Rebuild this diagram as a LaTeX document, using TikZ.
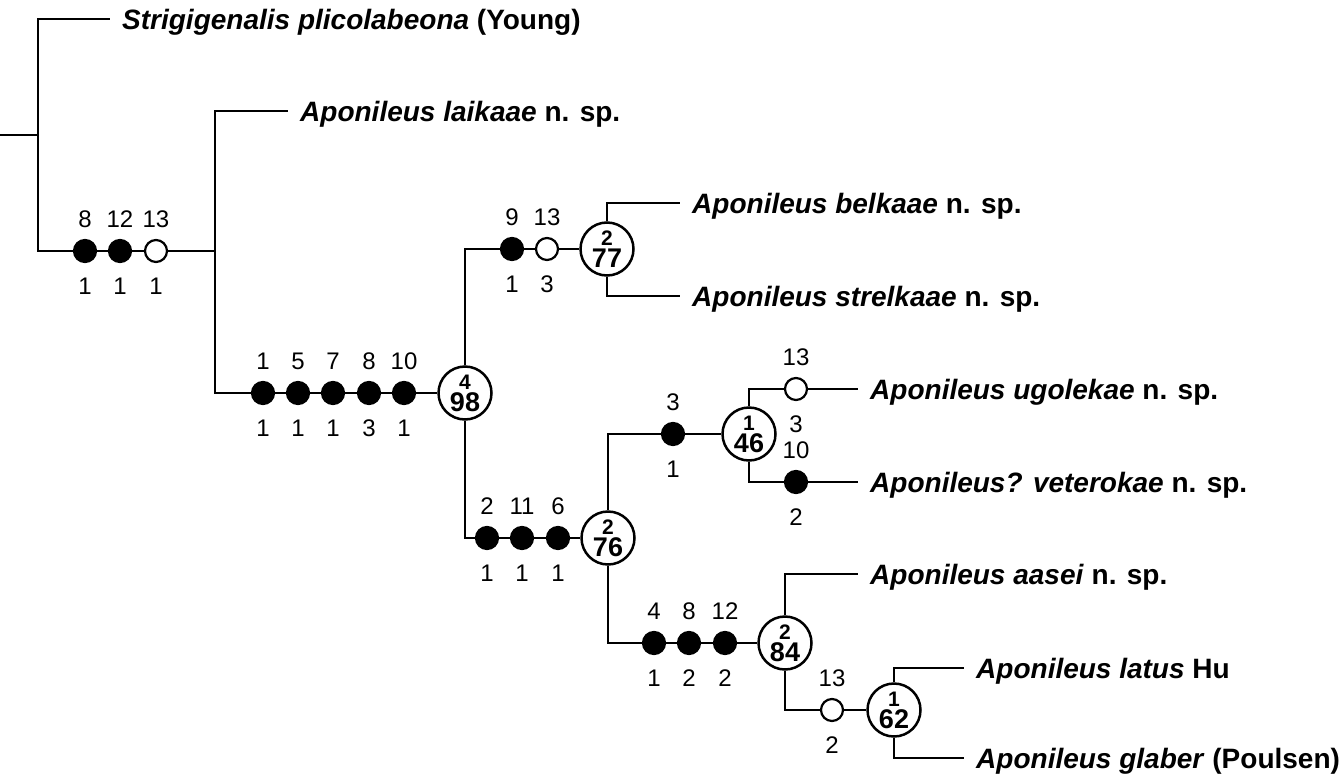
\documentclass[tikz,border=0pt]{standalone}
\usepackage{fontspec}
\setmainfont{Liberation Sans}
\tikzset{
  br/.style={line width=2.4pt, line join=miter},
  dotf/.style={circle, draw, fill=black, line width=2.2pt, minimum size=22pt, inner sep=0pt},
  doto/.style={circle, draw, fill=white, line width=2.2pt, minimum size=22pt, inner sep=0pt},
  cnode/.style={circle, draw, fill=white, line width=2.5pt, minimum size=53pt, inner sep=0pt, font=\bfseries},
  lbl/.style={inner sep=0pt, font=\fontsize{24}{24}\selectfont, text height=17pt, text depth=0pt},
  taxon/.style={anchor=west, inner xsep=12pt, inner ysep=0pt, font=\fontsize{28}{30}\selectfont\bfseries, text height=20pt, text depth=0pt}
}
\newcommand\chr[6]{%
  \node[#4] (#1) at (#2,#3) {};
  \node[lbl] (#1t) at (#2,#3-32) {#5};
  \node[lbl] (#1b) at (#2,#3+35) {#6};
}
\newcommand\clade[5]{%
  \node[cnode] (#1) at (#2,#3) {\shortstack{{\fontsize{21}{21}\selectfont #4}\\{\fontsize{27}{27}\selectfont #5}}};
}
\begin{document}
\begin{tikzpicture}[x=1pt, y=-1pt]
\useasboundingbox (0,0) rectangle (1343,779);
% taxa
\node[taxon] (tS) at (110,19) {\textit{Strigigenalis plicolabeona} (Young)};
\node[taxon] (tL) at (288,111) {\textit{Aponileus laikaae} n. sp.};
\node[taxon] (tBel) at (680,203) {\textit{Aponileus belkaae} n. sp.};
\node[taxon] (tStr) at (680,296) {\textit{Aponileus strelkaae} n. sp.};
\node[taxon] (tUgo) at (858,389) {\textit{Aponileus ugolekae} n. sp.};
\node[taxon] (tVet) at (858,482) {\textit{Aponileus? veterokae} n. sp.};
\node[taxon] (tAas) at (858,574) {\textit{Aponileus aasei} n. sp.};
\node[taxon] (tLat) at (964,668) {\textit{Aponileus latus} Hu};
\node[taxon] (tGla) at (964,758) {\textit{Aponileus glaber} (Poulsen)};
% junctions
\coordinate (root) at (0,135);
\coordinate (j0) at (38,135);
\coordinate (j1) at (215,251);
% characters
\chr{a8}{85}{251}{dotf}{8}{1}
\chr{a12}{120}{251}{dotf}{12}{1}
\chr{a13}{156}{251}{doto}{13}{1}
\chr{b1}{263}{393}{dotf}{1}{1}
\chr{b5}{298}{393}{dotf}{5}{1}
\chr{b7}{333}{393}{dotf}{7}{1}
\chr{b8}{369}{393}{dotf}{8}{3}
\chr{b10}{404}{393}{dotf}{10}{1}
\chr{e9}{512}{249}{dotf}{9}{1}
\chr{e13}{547}{249}{doto}{13}{3}
\chr{f2}{487}{538}{dotf}{2}{1}
\chr{f11}{522}{538}{dotf}{11}{1}
\chr{f6}{558}{538}{dotf}{6}{1}
\chr{g3}{673}{434}{dotf}{3}{1}
\chr{h13}{796}{389}{doto}{13}{3}
\chr{h10}{796}{482}{dotf}{10}{2}
\chr{k4}{654}{643}{dotf}{4}{1}
\chr{k8}{689}{643}{dotf}{8}{2}
\chr{k12}{725}{643}{dotf}{12}{2}
\chr{m13}{832}{710}{doto}{13}{2}
% clades
\clade{c498}{465}{393}{4}{98}
\clade{c277}{607}{249}{2}{77}
\clade{c276}{608}{538}{2}{76}
\clade{c146}{749}{434}{1}{46}
\clade{c284}{785}{643}{2}{84}
\clade{c162}{894}{710}{1}{62}
% branches
\draw[br] (root) -- (j0);
\draw[br] (j0) |- (tS.west);
\draw[br] (j0) |- (a8) -- (a12) -- (a13) -- (j1);
\draw[br] (j1) |- (tL.west);
\draw[br] (j1) |- (b1) -- (b5) -- (b7) -- (b8) -- (b10) -- (c498);
\draw[br] (c498) |- (e9) -- (e13) -- (c277);
\draw[br] (c277) |- (tBel.west);
\draw[br] (c277) |- (tStr.west);
\draw[br] (c498) |- (f2) -- (f11) -- (f6) -- (c276);
\draw[br] (c276) |- (g3) -- (c146);
\draw[br] (c146) |- (h13) -- (tUgo.west);
\draw[br] (c146) |- (h10) -- (tVet.west);
\draw[br] (c276) |- (k4) -- (k8) -- (k12) -- (c284);
\draw[br] (c284) |- (tAas.west);
\draw[br] (c284) |- (m13) -- (c162);
\draw[br] (c162) |- (tLat.west);
\draw[br] (c162) |- (tGla.west);
\end{tikzpicture}
\end{document}
